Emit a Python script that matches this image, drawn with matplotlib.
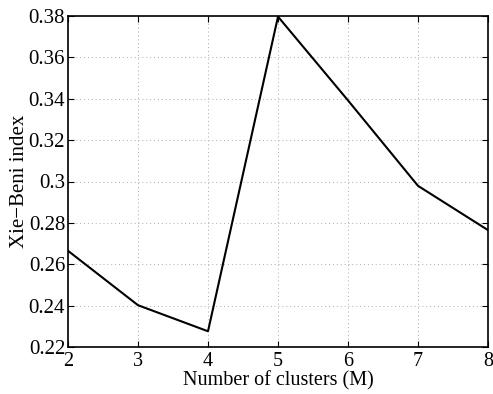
import matplotlib
matplotlib.use("Agg")
import matplotlib.pyplot as plt

clusters = [2, 3, 4, 5, 6, 7, 8]
xb_index = [0.2665, 0.2402, 0.2276, 0.3797, 0.3392, 0.2979, 0.2765]
y_ticks = [0.22, 0.24, 0.26, 0.28, 0.3, 0.32, 0.34, 0.36, 0.38]
y_labels = ["0.22", "0.24", "0.26", "0.28", "0.3", "0.32", "0.34", "0.36", "0.38"]

plt.rcParams["font.family"] = ["Liberation Serif", "DejaVu Serif"]

fig = plt.figure(figsize=(4.93, 3.94), dpi=100)
ax = fig.add_axes([68 / 493, 1 - 347 / 394, 420 / 493, 331 / 394])

ax.plot(clusters, xb_index, color="black", linewidth=1.5)

ax.set_xlim(2, 8)
ax.set_ylim(0.22, 0.38)
ax.set_xticks(clusters)
ax.set_yticks(y_ticks)
ax.set_yticklabels(y_labels)
ax.tick_params(direction="in", top=True, right=True, labelsize=15, length=4, width=0.8)
ax.tick_params(axis="x", pad=3.5, labelsize=14.5)
ax.tick_params(axis="y", pad=2)
ax.grid(True, linestyle=(0, (1, 3)), color="#aaaaaa", linewidth=0.7)
for s in ax.spines.values():
    s.set_linewidth(1.2)

ax.set_xlabel("Number of clusters (M)", fontsize=14.5, labelpad=0)
ax.set_ylabel("Xie\u2212Beni index", fontsize=15, labelpad=0)

fig.savefig("out.png", dpi=100)
